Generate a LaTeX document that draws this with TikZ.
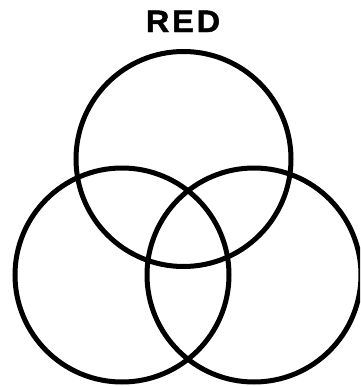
\documentclass[tikz,border=0pt]{standalone}
\usepackage{fontspec}
\setmainfont{Liberation Sans}
\newfontfamily\titlefont[LetterSpace=9,FakeStretch=1.05,FakeBold=1.5]{Liberation Sans Bold}
\begin{document}
\begin{tikzpicture}[x=1pt,y=-1pt,
  ring/.style={draw=black,line width=5pt},
  title/.style={font=\titlefont\fontsize{31}{36}\selectfont,anchor=base,inner sep=0pt}]
\useasboundingbox (0,0) rectangle (360,386);
\clip (0,0) rectangle (360,386);
\node[ring,circle,minimum size=215pt,inner sep=0pt] (top) at (183.5,159) {};
\node[ring,circle,minimum size=214pt,inner sep=0pt] (left) at (122,275) {};
\node[ring,circle,minimum size=214pt,inner sep=0pt] (right) at (254,275) {};
\node[title] (lbl) at (183,32) {RED};
\end{tikzpicture}
\end{document}
